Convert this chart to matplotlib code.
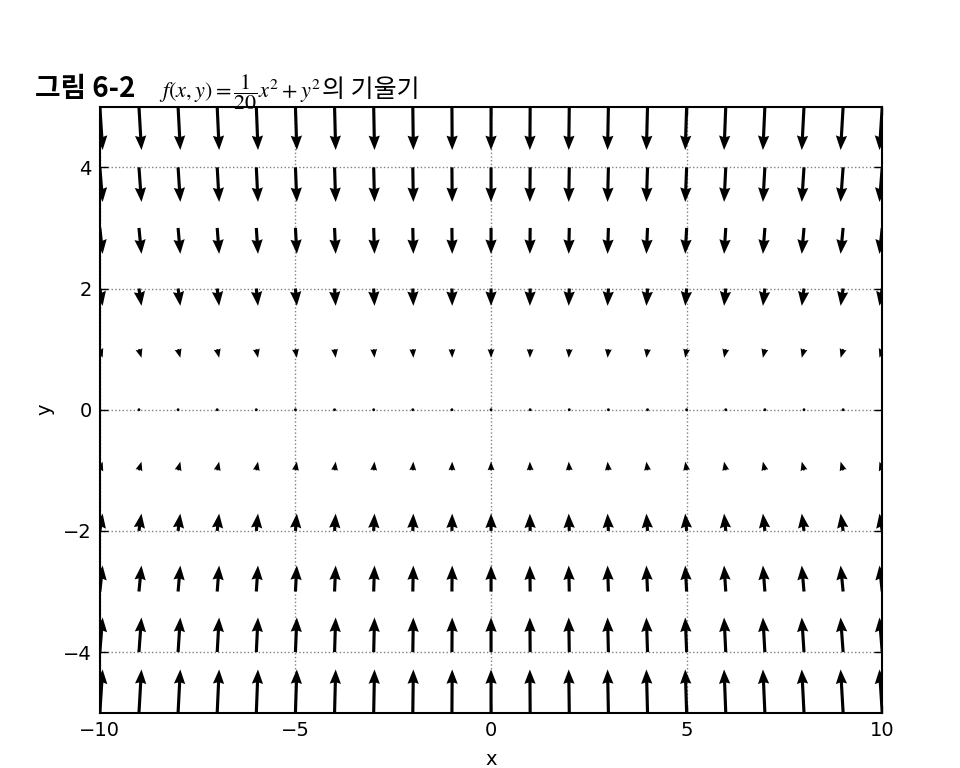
import numpy as np
import matplotlib
matplotlib.use("Agg")
import matplotlib.pyplot as plt

plt.rcParams['font.family'] = ['DejaVu Sans']
plt.rcParams['mathtext.fontset'] = 'stix'

# grid positions
x_vals = [-10, -9, -8, -7, -6, -5, -4, -3, -2, -1, 0, 1, 2, 3, 4, 5, 6, 7, 8, 9, 10]
y_vals = [-5, -4, -3, -2, -1, 0, 1, 2, 3, 4, 5]

# negative gradient components: u depends on column (x), v on row (y)
u_by_x = [1.0, 0.9, 0.8, 0.7, 0.6, 0.5, 0.4, 0.3, 0.2, 0.1, 0.0,
          -0.1, -0.2, -0.3, -0.4, -0.5, -0.6, -0.7, -0.8, -0.9, -1.0]
v_by_y = [10, 8, 6, 4, 2, 0, -2, -4, -6, -8, -10]

x_ticks = [-10, -5, 0, 5, 10]
y_ticks = [-4, -2, 0, 2, 4]

X, Y = np.meshgrid(x_vals, y_vals)
U, V = np.meshgrid(u_by_x, v_by_y)

fig = plt.figure(figsize=(9.6, 7.68), dpi=100)
ax = fig.add_axes([0.104, 0.072, 0.815, 0.789])

ax.quiver(X, Y, U, V, angles='xy', scale_units='xy', scale=14,
          width=0.004, headwidth=3.6, headlength=4.6, headaxislength=4.2,
          color='black', pivot='tail', zorder=3)

ax.set_xlim(-10, 10)
ax.set_ylim(-5, 5)
ax.set_xticks(x_ticks)
ax.set_yticks(y_ticks)
ax.set_xticklabels(['\u2212' + str(-t) if t < 0 else str(t) for t in x_ticks])
ax.set_yticklabels(['\u2212' + str(-t) if t < 0 else str(t) for t in y_ticks])
ax.tick_params(direction='in', top=True, right=True, length=6, width=1,
               labelsize=14, pad=6)
ax.grid(True, linestyle=':', color='gray', linewidth=1)
for s in ax.spines.values():
    s.set_linewidth(1.5)

ax.set_xlabel('x', fontsize=14, labelpad=7)
ax.set_ylabel('y', fontsize=14, labelpad=6)

# book-style caption above the plot
fig.text(0.036, 0.874, '그림 6-2', fontsize=20, fontweight='bold',
         family=['Noto Sans CJK KR', 'DejaVu Sans'])
fig.text(0.166, 0.874, r'$f(x, y) = \dfrac{1}{20}x^2 + y^2$', fontsize=16)
fig.text(0.335, 0.874, '의 기울기', fontsize=18,
         family=['Noto Sans CJK KR', 'DejaVu Sans'])

fig.savefig('out.png', dpi=100, facecolor='white')
